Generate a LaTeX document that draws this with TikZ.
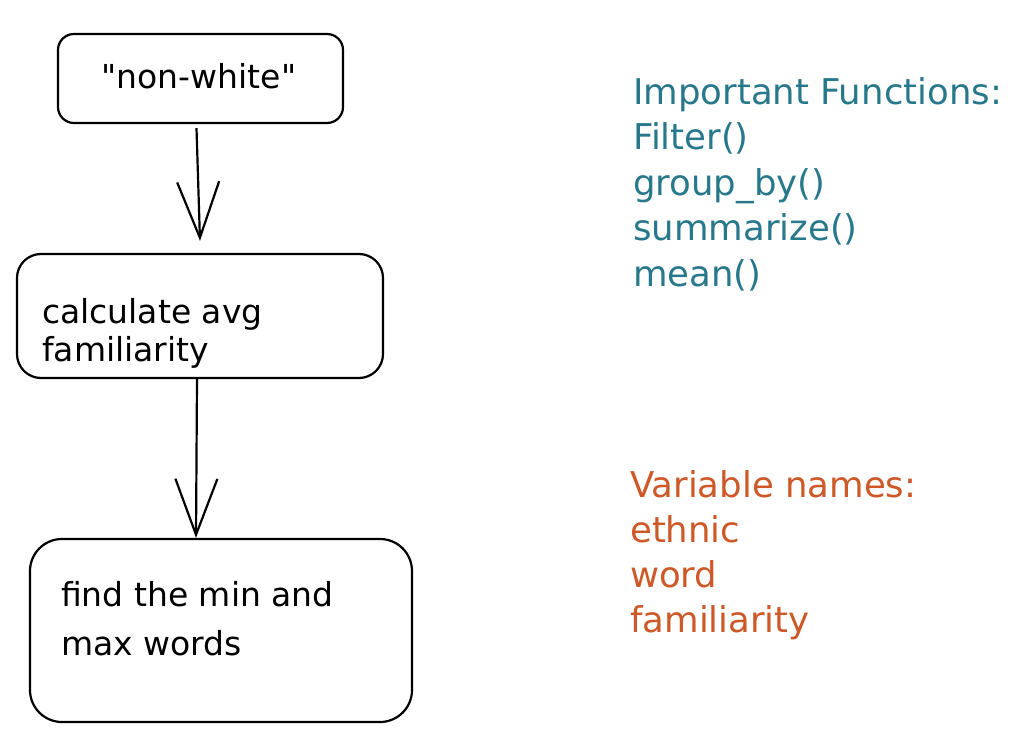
\documentclass[tikz,border=0pt]{standalone}
\usepackage{fontspec}
\setmainfont{DejaVu Sans}[Ligatures=TeXOff]
\usetikzlibrary{arrows.meta}
\definecolor{tealtxt}{RGB}{40,120,140}
\definecolor{orangetxt}{RGB}{205,88,40}
\begin{document}
\begin{tikzpicture}[x=1pt,y=-1pt,
  box/.style={draw=black,line width=2.2pt,rectangle,inner sep=0pt},
  boxtext/.style={anchor=base west,inner sep=0pt,font=\fontsize{33}{40}\selectfont},
  sidetext/.style={anchor=base west,inner sep=0pt,font=\fontsize{35.5}{45}\selectfont},
  arr/.style={line width=2.2pt,-{Straight Barb[length=56pt,width=42pt,line width=2.2pt]}}
]
\useasboundingbox (0,0) rectangle (1018,736);
% boxes
\node[box,rounded corners=16pt,minimum width=285pt,minimum height=89pt] (b1) at (200.5,78.5) {};
\node[box,rounded corners=24pt,minimum width=366pt,minimum height=124pt] (b2) at (200,316) {};
\node[box,rounded corners=32pt,minimum width=382pt,minimum height=183pt] (b3) at (221,630.5) {};
% box texts
\node[anchor=base,inner sep=0pt,font=\fontsize{33}{40}\selectfont] (t1) at (199,88) {"non-white"};
\node[boxtext] (t2a) at (42,323) {calculate avg};
\node[boxtext] (t2b) at (42,361) {familiarity};
\node[boxtext] (t3a) at (61,606) {find the min and};
\node[boxtext] (t3b) at (61,655) {max words};
% arrows
\coordinate (a1s) at ([xshift=-4pt,yshift=-4pt]b1.south);
\coordinate (a1e) at ([yshift=12pt]b2.north);
\draw[arr] (a1s) -- (a1e);
\coordinate (a2s) at ([xshift=-3pt]b2.south);
\coordinate (a2e) at ([xshift=-25pt]b3.north);
\draw[arr] (a2s) -- (a2e);
% side texts
\begin{scope}[every node/.style={sidetext,text=tealtxt}]
\node (f0) at (633,104) {Important Functions:};
\node (f1) at (633,149.5) {Filter()};
\node (f2) at (633,195) {group\_by()};
\node (f3) at (633,240.5) {summarize()};
\node (f4) at (633,286) {mean()};
\end{scope}
\begin{scope}[every node/.style={sidetext,text=orangetxt}]
\node (v0) at (630,497) {Variable names:};
\node (v1) at (630,542) {ethnic};
\node (v2) at (630,587) {word};
\node (v3) at (630,632) {familiarity};
\end{scope}
\end{tikzpicture}
\end{document}
